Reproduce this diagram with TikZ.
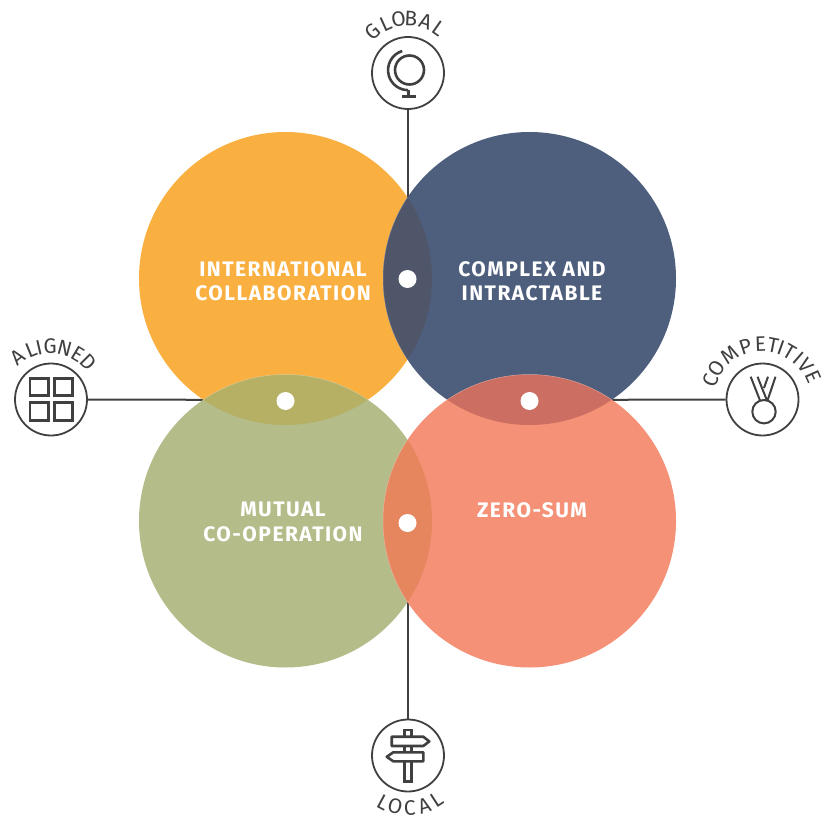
\documentclass[tikz,border=0pt]{standalone}
\usepackage{fontspec}
\setmainfont{Fira Sans}
\newfontfamily\labelfont[LetterSpace=7,BoldFont={Fira Sans Bold}]{Fira Sans}
\definecolor{corange}{HTML}{FAB041}
\definecolor{cnavy}{HTML}{4E5F7D}
\definecolor{cgreen}{HTML}{B4BC8A}
\definecolor{csalmon}{HTML}{F49176}
\definecolor{lensA}{HTML}{50566A}
\definecolor{lensB}{HTML}{B5B064}
\definecolor{lensC}{HTML}{CD6E62}
\definecolor{lensD}{HTML}{E5865F}
\definecolor{ink}{HTML}{404040}
\tikzset{
  blob/.style={circle,minimum size=293pt,inner sep=0pt,draw=none},
  iconring/.style={circle,minimum size=72pt,inner sep=0pt,draw=ink,line width=1.8pt,fill=white},
  axisline/.style={draw=ink,line width=2pt},
  icon/.style={draw=ink,line width=2.6pt},
  dot/.style={circle,fill=white,minimum size=18pt,inner sep=0pt},
  blobtext/.style={text=white,align=center,font=\labelfont\bfseries\fontsize{21}{24.5}\selectfont,inner sep=0pt},
  arcletter/.style={text=ink,font=\fontsize{21}{21}\selectfont,inner sep=0pt,anchor=base}
}
\newcommand{\lens}[5]{%
  \begin{scope}
    \clip (#1,#2) circle (146.5pt);
    \fill[#5] (#3,#4) circle (146.5pt);
    \draw[white,opacity=.3,line width=.5pt] (#3,#4) circle (146.5pt);
  \end{scope}}
\begin{document}
\begin{tikzpicture}[x=1pt,y=-1pt]
\useasboundingbox (0,0) rectangle (824,818);
% icon rings
\node[iconring] (global) at (408,73) {};
\node[iconring] (local) at (408,755.5) {};
\node[iconring] (aligned) at (51,399.5) {};
\node[iconring] (competitive) at (762.5,399.5) {};
% points under the large circles where the axes stop
\coordinate (hubN) at (408,279);
\coordinate (hubS) at (408,523);
\coordinate (hubW) at (285.5,400);
\coordinate (hubE) at (529.5,400);
% axes
\draw[axisline] (global.south) -- (hubN);
\draw[axisline] (local.north) -- (hubS);
\draw[axisline] (aligned.east) -- (hubW);
\draw[axisline] (competitive.west) -- (hubE);
% large circles
\node[blob,fill=corange] (collab) at (285.5,278.5) {};
\node[blob,fill=cnavy] (complex) at (529.5,278.5) {};
\node[blob,fill=cgreen] (mutual) at (285.5,521) {};
\node[blob,fill=csalmon] (zero) at (529.5,521) {};
\lens{285.5}{278.5}{529.5}{278.5}{lensA}
\lens{285.5}{278.5}{285.5}{521}{lensB}
\lens{529.5}{278.5}{529.5}{521}{lensC}
\lens{285.5}{521}{529.5}{521}{lensD}
% dots
\node[dot] (d1) at (407.5,279) {};
\node[dot] (d2) at (285.5,401) {};
\node[dot] (d3) at (529.5,401) {};
\node[dot] (d4) at (407.5,523) {};
% labels
\node[blobtext] (t1) at (283,281) {INTERNATIONAL\\COLLABORATION};
\node[blobtext] (t2) at (532,281) {COMPLEX AND\\INTRACTABLE};
\node[blobtext] (t3) at (283,522) {MUTUAL\\CO-OPERATION};
\node[blobtext] (t4) at (532,510) {ZERO-SUM};
% curved labels
\foreach \c/\a in {G/131,L/114.5,O/100,B/87,A/71,L/55}
  \node[arcletter,rotate=\a-90] at ({408+47*cos(\a)},{73-47*sin(\a)}) {\c};
\foreach \c/\a in {L/242,O/256,C/272,A/288,L/303}
  \node[arcletter,rotate=\a+90] at ({408+60*cos(\a)},{755.5-60*sin(\a)}) {\c};
\foreach \c/\a in {A/128,L/112,I/103,G/91,N/75,E/59,D/45}
  \node[arcletter,rotate=\a-90] at ({51+46*cos(\a)},{399.5-46*sin(\a)}) {\c};
\foreach \c/\a in {C/159.5,O/146,M/126,P/108,E/92,T/79,I/70.5,T/60,I/49,V/38,E/24}
  \node[arcletter,rotate=\a-90] at ({762.5+48*cos(\a)},{399.5-48*sin(\a)}) {\c};
% globe
\draw[icon] (409.5,70) circle (14.5pt);
\draw[icon] (402.2,51) arc[start angle=107,end angle=270,radius=20pt];
\draw[icon] (408.3,90) -- (408.3,96.7);
\draw[icon] (402.3,96.7) -- (416,96.7);
% signpost
\draw[icon] (404.3,736.7) -- (404.3,730) -- (411.3,730) -- (411.3,736.7);
\draw[icon] (404.3,746) -- (404.3,752.3) (411.3,746) -- (411.3,752.3);
\draw[icon] (404.3,761.3) -- (404.3,781.7) -- (411.3,781.7) -- (411.3,761.3);
\draw[icon,line join=round] (391.7,736.7) -- (423.3,736.7) -- (429.3,741.4) -- (423.3,746) -- (391.7,746) -- cycle;
\draw[icon,line join=round] (423.3,752.3) -- (393.3,752.3) -- (386.7,756.8) -- (393.3,761.3) -- (423.3,761.3) -- cycle;
% grid
\draw[icon] (30,378.3) rectangle (48.3,395.7);
\draw[icon] (54.3,378.3) rectangle (72.7,395.7);
\draw[icon] (30,402.7) rectangle (48.3,420.7);
\draw[icon] (54.3,402.7) rectangle (72.7,420.7);
% medal
\draw[icon,line width=2pt] (764,411.7) circle (11.7pt);
\draw[icon,line width=2pt] (750.7,376.7) -- (760,400.5);
\draw[icon,line width=2pt] (757.5,376.7) -- (767,400.5);
\draw[icon,line width=2pt] (775.5,376.7) -- (767.5,400.5);
\draw[icon,line width=2pt] (768,376.7) -- (764,388);
\end{tikzpicture}
\end{document}
